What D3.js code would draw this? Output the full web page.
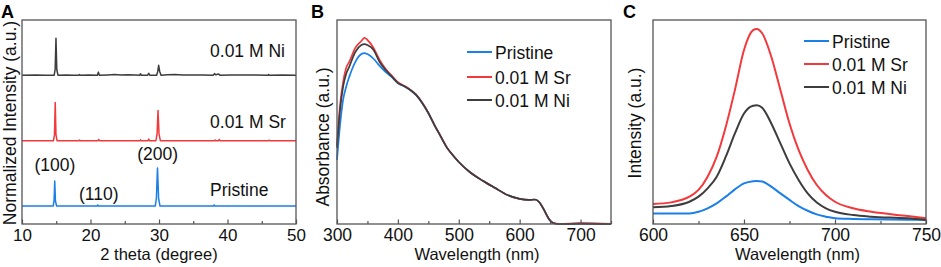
<!DOCTYPE html>
<html>
<head>
<meta charset="utf-8">
<script src="https://cdn.jsdelivr.net/npm/d3@7"></script>
<style>
  body { margin: 0; background: #fff; }
  text { font-family: "Liberation Sans", Arial, sans-serif; }
</style>
</head>
<body>
<div id="chart-area"></div>
<script>
// DATA
const series = ["Pristine", "0.01 M Sr", "0.01 M Ni"]
const colors = ["#1a7fe6", "#f2393c", "#3d3d3d"]

// A: XRD, [2 theta, normalized intensity]
const xrdPristine = [[10,0],[14.55,0],[14.68,14],[14.78,66],[14.88,14],[15.05,0],[20.95,0],[21.05,3],[21.15,0],
  [29.45,0],[29.62,20],[29.78,100],[29.94,20],[30.15,0],[37.95,0],[38.05,3],[38.15,0],[50,0]]
const xrdSr = [[10,0],[14.6,0],[14.74,15],[14.85,100],[14.96,15],[15.12,0],[18.3,0],[18.4,1.5],[18.5,0],
  [21.1,0],[21.2,3],[21.3,0],[27.2,0],[27.3,2],[27.4,0],[28.4,0],[28.5,4],[28.6,0],
  [29.55,0],[29.72,18],[29.86,79],[30.0,18],[30.2,0],[38.1,0],[38.2,1.5],[38.3,0],[38.7,0],[38.8,3],[38.9,0],
  [46,0],[46.1,1],[46.2,0],[50,0]]
const xrdNi = [[10,0],[12,0.6],[13.5,0],[14.7,0],[14.84,15],[14.96,97],[15.08,15],[15.25,0],[16.5,0.6],[17.5,0],
  [18.3,0],[18.4,2],[18.5,0],[19.8,0.7],[21.0,0],[21.15,8],[21.3,0],[22.5,0.8],[23.5,1.5],[24.5,0.5],
  [25.5,1],[26.5,0.5],[27.2,0],[27.3,4],[27.4,0],[28.35,0],[28.5,5],[28.65,0],[29.65,0],[29.82,10],
  [29.95,26],[30.1,10],[30.3,0],[31.2,1],[32.3,1.5],[33.5,0.5],[35,0.8],[36.5,0.3],[37.9,0],[38.1,4],
  [38.3,1],[38.7,3],[38.9,0],[40.5,0.6],[42.5,0.3],[44,0.5],[45.9,0],[46.0,2],[46.1,0],[48,0.4],[50,0]]
const xrdOffsets = [0, 172, 344]
const xrdLabels = ["(100)", "(110)", "(200)"]
const xrdLabelTheta = [14.8, 21.2, 29.8]
const xTicksA = [10, 20, 30, 40, 50]
const xMinorA = [15, 25, 35, 45]

// B: absorbance
const absWl = [300,305,310,315,320,330,340,345,350,360,370,380,390,400,410,420,430,440,450,460,470,480,490,
  500,520,540,560,580,600,615,625,632,640,648,655,665,700,750]
const absPristine = [0.314,0.485,0.608,0.672,0.72,0.794,0.833,0.838,0.833,0.81,0.775,0.745,0.72,0.69,0.675,
  0.657,0.632,0.593,0.544,0.485,0.431,0.377,0.338,0.304,0.25,0.211,0.176,0.142,0.123,0.118,0.12,0.108,0.069,
  0.025,0.005,0,0.002,0]
const absSr = [0.387,0.583,0.696,0.765,0.794,0.863,0.897,0.912,0.902,0.863,0.804,0.76,0.727,0.695,0.678,
  0.659,0.634,0.594,0.545,0.486,0.432,0.378,0.338,0.304,0.25,0.211,0.176,0.142,0.123,0.118,0.12,0.108,0.069,
  0.025,0.005,0.001,0.004,0.001]
const absNi = [0.373,0.559,0.672,0.735,0.77,0.843,0.877,0.882,0.877,0.853,0.794,0.755,0.723,0.692,0.676,
  0.658,0.633,0.593,0.544,0.485,0.431,0.377,0.338,0.304,0.25,0.211,0.176,0.142,0.123,0.118,0.12,0.108,0.069,
  0.025,0.005,0,0.002,0]
const xTicksB = [300, 400, 500, 600, 700]
const xMinorB = [350, 450, 550, 650, 750]

// C: photoluminescence
const plWl = [600,610,620,625,630,635,640,645,650,655,657,660,665,670,675,680,685,690,695,700,710,720,740,750]
const plPristine = [5.2,5.2,5.2,6.0,7.7,10.1,13.4,17.0,19.9,21.0,21.1,20.8,18.3,15.0,11.8,8.8,6.5,4.7,3.6,2.8,2.5,2.3,2.1,2.0]
const plSr = [9.8,10.6,13.4,16.7,23.2,33.0,47.7,65.7,85.3,95.0,95.6,93.5,82.0,65.7,49.3,36.3,26.5,19.1,14.2,10.9,7.7,6.0,3.9,2.8]
const plNi = [8.2,8.8,10.9,13.4,17.5,23.2,33.0,44.4,54.2,58.0,58.2,57.0,49.3,39.5,29.7,21.6,15.0,10.5,7.7,6.0,4.4,3.6,2.8,2.0]
const xTicksC = [600, 650, 700, 750]
const xMinorC = [625, 675, 725]

// LAYOUT
const W = 941, H = 267
const TOP = 20, BOTTOM = 224
const panelA = { left: 22, right: 296 }
const panelB = { left: 337, right: 611 }
const panelC = { left: 653, right: 926 }
const AXIS = "#555"

const svg = d3.select("#chart-area").append("svg")
  .attr("width", W)
  .attr("height", H)

function frame(p, x, majors, minors, fontSize) {
  const g = svg.append("g")
  const minor = g.append("g")
    .attr("transform", `translate(0, ${BOTTOM})`)
    .call(d3.axisBottom(x).tickValues(minors).tickSize(-3).tickFormat(""))
  const major = g.append("g")
    .attr("transform", `translate(0, ${BOTTOM})`)
    .call(d3.axisBottom(x).tickValues(majors).tickSize(-4.5).tickPadding(5))
  minor.select(".domain").remove()
  major.select(".domain").remove()
  g.selectAll(".tick line").attr("stroke", AXIS).attr("stroke-width", 1.2)
  major.attr("font-size", fontSize).attr("font-family", null)
  major.selectAll("text").attr("fill", "#111")
  g.append("rect")
    .attr("x", p.left).attr("y", TOP)
    .attr("width", p.right - p.left).attr("height", BOTTOM - TOP)
    .attr("fill", "none").attr("stroke", AXIS).attr("stroke-width", 1.3)
}

function panelLetter(txt, x) {
  svg.append("text").attr("x", x).attr("y", 18)
    .attr("font-size", 18).attr("font-weight", "bold").text(txt)
}

function xTitle(txt, cx) {
  svg.append("text").attr("x", cx).attr("y", 260)
    .attr("text-anchor", "middle").attr("font-size", 16.5).attr("fill", "#111").text(txt)
}

function yTitle(txt, bx, cy) {
  svg.append("text")
    .attr("transform", `translate(${bx}, ${cy}) rotate(-90)`)
    .attr("text-anchor", "middle").attr("font-size", 17.5).attr("fill", "#111").text(txt)
}

function legend(x0, x1, ys) {
  series.forEach((s, i) => {
    svg.append("line").attr("x1", x0).attr("x2", x1).attr("y1", ys[i]).attr("y2", ys[i])
      .attr("stroke", colors[i]).attr("stroke-width", 2)
    svg.append("text").attr("x", x1 + 3).attr("y", ys[i] + 6.5)
      .attr("font-size", 17.5).attr("fill", "#111").text(s)
  })
}

// PANEL A
const xA = d3.scaleLinear().domain([10, 50]).range([panelA.left, panelA.right])
const yA = d3.scaleLinear().domain([-47, 489]).range([BOTTOM, TOP])
const xrdAll = [xrdPristine, xrdSr, xrdNi]

svg.append("clipPath").attr("id", "clipA").append("rect")
  .attr("x", panelA.left).attr("y", TOP).attr("width", panelA.right - panelA.left).attr("height", BOTTOM - TOP)

xrdAll.forEach((d, i) => {
  svg.append("path")
    .datum(d)
    .attr("clip-path", "url(#clipA)")
    .attr("fill", "none")
    .attr("stroke", colors[i])
    .attr("stroke-width", 1.5)
    .attr("stroke-linejoin", "round")
    .attr("d", d3.line().x(p => xA(p[0])).y(p => yA(p[1] + xrdOffsets[i])))
})

frame(panelA, xA, xTicksA, xMinorA, 17)

const seriesLabelY = [26, 205, 392]
series.forEach((s, i) => {
  svg.append("text").attr("x", xA(37.45)).attr("y", yA(seriesLabelY[i]))
    .attr("font-size", 17.5).attr("fill", "#111").text(s)
})
const hklLabelY = [92, 16, 121]
xrdLabels.forEach((s, i) => {
  svg.append("text").attr("x", xA(xrdLabelTheta[i])).attr("y", yA(hklLabelY[i]))
    .attr("text-anchor", "middle").attr("font-size", 17.5).attr("fill", "#111").text(s)
})

panelLetter("A", 1)
xTitle("2 theta (degree)", (panelA.left + panelA.right) / 2)
yTitle("Normalized Intensity (a.u.)", 16, 123)

// PANEL B
const xB = d3.scaleLinear().domain([300, 750]).range([panelB.left, panelB.right])
const yB = d3.scaleLinear().domain([0, 1]).range([BOTTOM, TOP])
const absAll = [absPristine, absSr, absNi]

absAll.forEach((d, i) => {
  svg.append("path")
    .datum(d)
    .attr("fill", "none")
    .attr("stroke", colors[i])
    .attr("stroke-width", 1.7)
    .attr("d", d3.line().curve(d3.curveMonotoneX).x((v, j) => xB(absWl[j])).y(v => yB(v)))
})

frame(panelB, xB, xTicksB, xMinorB, 17.5)
legend(467, 492, [52, 77, 100])
panelLetter("B", 311)
xTitle("Wavelength (nm)", (panelB.left + panelB.right) / 2 + 3)
yTitle("Absorbance (a.u.)", 329, 137)

// PANEL C
const xC = d3.scaleLinear().domain([600, 750]).range([panelC.left, panelC.right])
const yC = d3.scaleLinear().domain([0, 100]).range([BOTTOM, TOP])
const plAll = [plPristine, plSr, plNi]

plAll.forEach((d, i) => {
  svg.append("path")
    .datum(d)
    .attr("fill", "none")
    .attr("stroke", colors[i])
    .attr("stroke-width", 2)
    .attr("d", d3.line().curve(d3.curveMonotoneX).x((v, j) => xC(plWl[j])).y(v => yC(v)))
})

frame(panelC, xC, xTicksC, xMinorC, 17.5)
legend(804, 829, [41, 64, 87])
panelLetter("C", 623)
xTitle("Wavelength (nm)", (panelC.left + panelC.right) / 2 + 8)
yTitle("Intensity (a.u.)", 641, 123)
</script>
</body>
</html>
